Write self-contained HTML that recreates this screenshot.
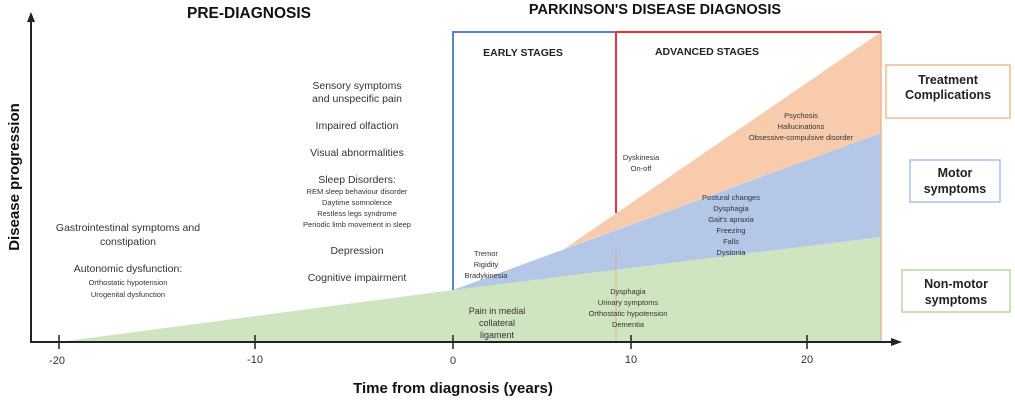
<!DOCTYPE html>
<html><head><style>body{margin:0;background:#fff}svg{display:block}text{font-family:"Liberation Sans",sans-serif;fill:#333}</style></head>
<body>
<svg width="1015" height="400" viewBox="0 0 1015 400">
<polygon points="59,342 453,290 881,237 881,342" fill="#cfe4c0"/>
<polygon points="453,290 881,133 881,237" fill="#b4c7e7"/>
<polygon points="564,249 881,32 881,133" fill="#f8cbad"/>
<line x1="616" y1="249" x2="616" y2="342" stroke="#d8b08a" stroke-width="1"/>
<line x1="881" y1="32" x2="881" y2="342" stroke="#e8b890" stroke-width="1.5"/>
<polyline points="453,290 453,32 616,32" fill="none" stroke="#5b82cc" stroke-width="2"/>
<polyline points="616,213 616,32 881,32" fill="none" stroke="#dd3344" stroke-width="2"/>
<line x1="31" y1="342" x2="31" y2="20" stroke="#222" stroke-width="2"/>
<polygon points="31,12 27,22 35,22" fill="#222"/>
<line x1="30" y1="342" x2="892" y2="342" stroke="#222" stroke-width="2"/>
<polygon points="902,342 891,338 891,346" fill="#222"/>
<g stroke="#222" stroke-width="1.5"><line x1="59" y1="335" x2="59" y2="349"/><line x1="255" y1="335" x2="255" y2="349"/><line x1="453" y1="335" x2="453" y2="349"/><line x1="631" y1="335" x2="631" y2="349"/><line x1="807" y1="335" x2="807" y2="349"/></g>
<g font-size="11" text-anchor="middle"><text x="57" y="364">-20</text><text x="255" y="363">-10</text><text x="453" y="364">0</text><text x="631" y="363">10</text><text x="807" y="363">20</text></g>
<text x="453" y="393" font-size="15" font-weight="bold" text-anchor="middle" style="fill:#111">Time from diagnosis (years)</text>
<text transform="translate(19,177) rotate(-90)" font-size="15" font-weight="bold" text-anchor="middle" style="fill:#111">Disease progression</text>
<text x="249" y="18" font-size="15.5" font-weight="bold" text-anchor="middle" style="fill:#111">PRE-DIAGNOSIS</text>
<text x="655" y="14" font-size="14.5" font-weight="bold" text-anchor="middle" style="fill:#111">PARKINSON'S DISEASE DIAGNOSIS</text>
<text x="523" y="56" font-size="10.5" font-weight="bold" text-anchor="middle" style="fill:#222">EARLY STAGES</text>
<text x="707" y="55" font-size="10.5" font-weight="bold" text-anchor="middle" style="fill:#222">ADVANCED STAGES</text>
<g text-anchor="middle">
<text x="357" y="89" font-size="10.5">Sensory symptoms</text>
<text x="357" y="102" font-size="10.5">and unspecific pain</text>
<text x="357" y="129" font-size="10.5">Impaired olfaction</text>
<text x="357" y="156" font-size="10.5">Visual abnormalities</text>
<text x="357" y="183" font-size="10.5">Sleep Disorders:</text>
<text x="357" y="194" font-size="7.5">REM sleep behaviour disorder</text>
<text x="357" y="205" font-size="7.5">Daytime somnolence</text>
<text x="357" y="216" font-size="7.5">Restless legs syndrome</text>
<text x="357" y="227" font-size="7.5">Periodic limb movement in sleep</text>
<text x="357" y="254" font-size="10.5">Depression</text>
<text x="357" y="281" font-size="10.5">Cognitive impairment</text>
<text x="128" y="231" font-size="10.5">Gastrointestinal symptoms and</text>
<text x="128" y="245" font-size="10.5">constipation</text>
<text x="128" y="272" font-size="10.5">Autonomic dysfunction:</text>
<text x="128" y="285" font-size="7.5">Orthostatic hypotension</text>
<text x="128" y="297" font-size="7.5">Urogenital dysfunction</text>
<text x="486" y="256" font-size="7.5">Tremor</text>
<text x="486" y="267" font-size="7.5">Rigidity</text>
<text x="486" y="278" font-size="7.5">Bradykinesia</text>
<text x="497" y="314" font-size="9">Pain in medial</text>
<text x="497" y="326" font-size="9">collateral</text>
<text x="497" y="338" font-size="9">ligament</text>
<text x="628" y="294" font-size="7.5">Dysphagia</text>
<text x="628" y="305" font-size="7.5">Urinary symptoms</text>
<text x="628" y="316" font-size="7.5">Orthostatic hypotension</text>
<text x="628" y="327" font-size="7.5">Dementia</text>
<text x="731" y="200" font-size="7.5">Postural changes</text>
<text x="731" y="211" font-size="7.5">Dysphagia</text>
<text x="731" y="222" font-size="7.5">Gait's apraxia</text>
<text x="731" y="233" font-size="7.5">Freezing</text>
<text x="731" y="244" font-size="7.5">Falls</text>
<text x="731" y="255" font-size="7.5">Dystonia</text>
<text x="641" y="160" font-size="7.5">Dyskinesia</text>
<text x="641" y="171" font-size="7.5">On-off</text>
<text x="801" y="118" font-size="7.5">Psychosis</text>
<text x="801" y="129" font-size="7.5">Hallucinations</text>
<text x="801" y="140" font-size="7.5">Obsessive-compulsive disorder</text>
</g>
<rect x="886" y="65" width="124" height="53" fill="#fff" stroke="#f4b890" stroke-width="1.5"/>
<rect x="910" y="160" width="90" height="42" fill="#fff" stroke="#a9c0e8" stroke-width="1.5"/>
<rect x="902" y="270" width="108" height="42" fill="#fff" stroke="#b5d8a4" stroke-width="1.5"/>
<g text-anchor="middle" font-size="12.5" font-weight="bold">
<text x="948" y="84" style="fill:#222">Treatment</text>
<text x="948" y="99" style="fill:#222">Complications</text>
<text x="955" y="177" style="fill:#222">Motor</text>
<text x="955" y="193" style="fill:#222">symptoms</text>
<text x="956" y="288" style="fill:#222">Non-motor</text>
<text x="956" y="304" style="fill:#222">symptoms</text>
</g>
</svg>
</body></html>
